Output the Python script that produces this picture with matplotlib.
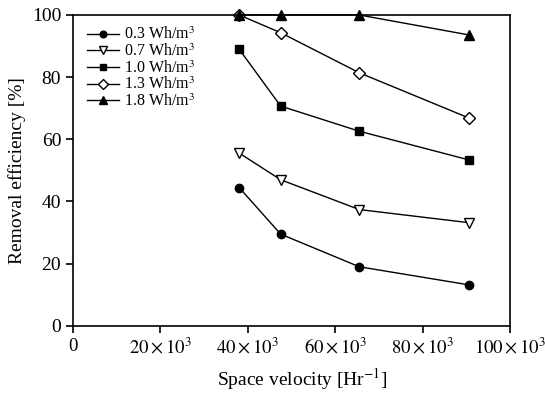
import matplotlib
matplotlib.use("Agg")
import matplotlib.pyplot as plt

plt.rcParams['font.family'] = ['Liberation Serif', 'DejaVu Serif']
plt.rcParams['mathtext.fontset'] = 'stix'

space_velocity = [38000, 47500, 65500, 90500]
labels = ['0.3 Wh/m$^3$', '0.7 Wh/m$^3$', '1.0 Wh/m$^3$', '1.3 Wh/m$^3$', '1.8 Wh/m$^3$']
eff_03 = [44.5, 29.5, 19.0, 13.2]
eff_07 = [55.6, 47.0, 37.4, 33.2]
eff_10 = [89.0, 70.7, 62.6, 53.4]
eff_13 = [100.0, 94.3, 81.4, 66.9]
eff_18 = [100.0, 100.0, 100.0, 93.6]
xticks = [0, 20000, 40000, 60000, 80000, 100000]
xtick_labels = ['0', r'$20\times10^{3}$', r'$40\times10^{3}$', r'$60\times10^{3}$',
                r'$80\times10^{3}$', r'$100\times10^{3}$']
yticks = [0, 20, 40, 60, 80, 100]

fig = plt.figure(figsize=(5.45, 3.94), dpi=100)
ax = fig.add_axes([0.134, 0.173, 0.802, 0.789])

series = [eff_03, eff_07, eff_10, eff_13, eff_18]
styles = [
    dict(marker='o', mfc='black', ms=6),
    dict(marker='v', mfc='white', ms=7),
    dict(marker='s', mfc='black', ms=6),
    dict(marker='D', mfc='white', ms=6),
    dict(marker='^', mfc='black', ms=7),
]
for ys, lab, st in zip(series, labels, styles):
    ax.plot(space_velocity, ys, color='black', lw=1.0, mec='black', mew=1.0,
            label=lab, clip_on=False, **st)

ax.set_xlim(0, 100000)
ax.set_ylim(0, 100)
ax.set_xticks(xticks)
ax.set_xticklabels(xtick_labels, fontsize=13.5)
ax.set_yticks(yticks)
ax.set_yticklabels([str(v) for v in yticks], fontsize=14)
ax.tick_params(direction='out', length=5, width=1.2, top=False, right=False)
for s in ax.spines.values():
    s.set_linewidth(1.2)

ax.set_xlabel('Space velocity [Hr$^{-1}$]', fontsize=14)
ax.xaxis.set_label_coords(0.524, -0.128)
ax.set_ylabel('Removal efficiency [%]', fontsize=14, labelpad=4)

leg = ax.legend(loc='upper left', frameon=False, fontsize=11.5, handlelength=2.0,
                handletextpad=0.3, labelspacing=0.0, borderaxespad=0.5,
                markerscale=0.8, bbox_to_anchor=(0.0, 1.008))

fig.savefig('out.png', dpi=100)
